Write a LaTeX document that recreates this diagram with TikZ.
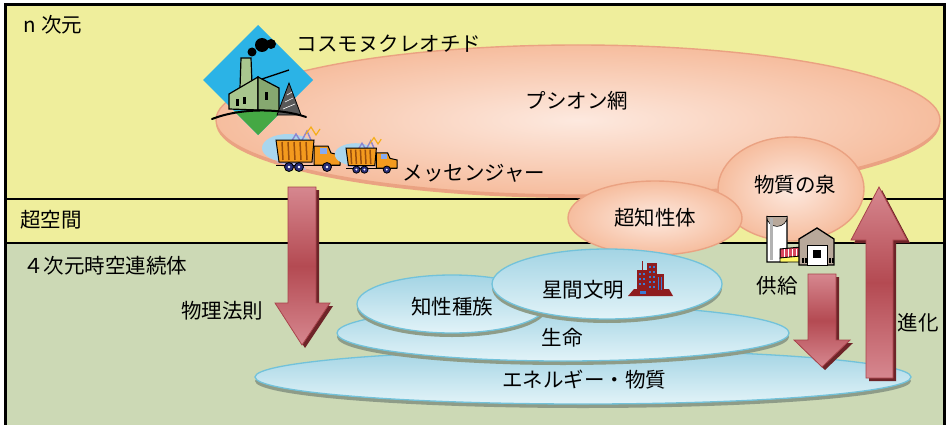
\documentclass[tikz,border=0pt]{standalone}
\usepackage{fontspec}
\setmainfont{Noto Sans CJK JP}
\begin{document}
\begin{tikzpicture}[x=1pt,y=-1pt,
  lbl/.style={font=\fontsize{20.5}{21}\selectfont, inner sep=0pt, text=black},
  peach/.style={inner color=peachIn, outer color=peachOut, draw=peachRim, line width=1.4pt},
  sky/.style={top color=skyTop, bottom color=skyBot, draw=skyRim, line width=1.3pt},
  skyshadow/.style={fill=shadowGray},
  bigarrow/.style={top color=arLight, bottom color=arLight, middle color=arDark, draw=arRim, line width=0.8pt},
  arshadow/.style={fill=arShade},
  band/.style={draw=black, line width=1.6pt}
]
\definecolor{bandYellow}{HTML}{EFEE9C}
\definecolor{bandGreen}{HTML}{CCD9B5}
\definecolor{peachIn}{HTML}{FDE9DF}
\definecolor{peachOut}{HTML}{F6BD9E}
\definecolor{peachRim}{HTML}{EAA282}
\definecolor{skyTop}{HTML}{A3D4E4}
\definecolor{skyBot}{HTML}{E2F3F8}
\definecolor{skyRim}{HTML}{72C2DA}
\definecolor{shadowGray}{HTML}{8E9C88}
\definecolor{arLight}{HTML}{D6878F}
\definecolor{arDark}{HTML}{B44A52}
\definecolor{arRim}{HTML}{A8434B}
\definecolor{arShade}{HTML}{6E2428}
\definecolor{factBlue}{HTML}{2BB3E6}
\definecolor{factGreen}{HTML}{45A844}
\definecolor{bldGreen}{HTML}{A9C68E}
\definecolor{bldGreenDk}{HTML}{86A870}
\definecolor{truckOrange}{HTML}{F39A1E}
\definecolor{truckDark}{HTML}{9A4F0C}
\definecolor{wheelBlue}{HTML}{2A2F7A}
\definecolor{splashBlue}{HTML}{A9D6EE}
\definecolor{splashPurple}{HTML}{8C86D0}
\definecolor{towerRed}{HTML}{8E1C1E}
\definecolor{winBlue}{HTML}{3A7BD5}
\definecolor{barnGray}{HTML}{B8A89A}
\definecolor{shedRed}{HTML}{D8475E}

\useasboundingbox (0,0) rectangle (949,425);
\fill[white] (0,0) rectangle (949,425);

% layers of space
\fill[bandYellow] (5,5) rectangle (944,199);
\fill[bandYellow] (5,199) rectangle (944,243);
\fill[bandGreen] (5,243) rectangle (944,425);
\draw[band] (5,199) -- (944,199);
\draw[band] (5,243) -- (944,243);
\draw[line width=3pt] (5,425) -- (5,5) -- (944,5) -- (944,425);

\node[lbl] (ndim) at (53,25) {n 次元};
\node[lbl] (hyper) at (51,220) {超空間};
\node[lbl] (fourd) at (105,266) {４次元時空連続体};

% psion net
\fill[peachRim] (578,123) ellipse [x radius=362, y radius=75];
\path[peach] (578,120) ellipse [x radius=362, y radius=75];
\node[lbl] (psion) at (577,101) {プシオン網};

% fountain of matter and super intelligence
\path[peach] (791,189) ellipse [x radius=73, y radius=52];
\node[lbl] (fount) at (795,185) {物質の泉};
\path[peach] (655,218) ellipse [x radius=87, y radius=37];
\node[lbl] (superi) at (655,218) {超知性体};

% cosmo nucleotide: factory in a diamond
\begin{scope}
  \clip (258,25) -- (313,80) -- (258,135) -- (203,80) -- cycle;
  \fill[factBlue] (200,20) rectangle (320,140);
  \fill[factGreen] (200,117) .. controls (235,108) and (280,108) .. (316,116) -- (316,140) -- (200,140) -- cycle;
\end{scope}
\fill[black] (252,52) circle (4.5);
\fill[black] (262,45) circle (7);
\fill[black] (271,44) circle (5);
\filldraw[fill=bldGreen, draw=black, line width=1.2pt] (240,88) -- (241,58) -- (251,58) -- (252,84) -- cycle;
\filldraw[fill=bldGreen, draw=black, line width=1.2pt] (229,94) -- (258,77) -- (258,110) -- (229,109) -- cycle;
\filldraw[fill=bldGreenDk, draw=black, line width=1.2pt] (258,77) -- (279,88) -- (279,111) -- (258,110) -- cycle;
\draw[black, line width=1.4pt] (262,79) -- (289,70);
\fill[black] (236,99) rectangle (239,106);
\fill[black] (243,97) rectangle (246,104);
\fill[black] (265,92) rectangle (268,100);
\filldraw[fill=gray!70!black, draw=black, line width=0.8pt] (289,83) -- (301,115) -- (277,115) -- cycle;
\draw[white, line width=0.6pt] (287,95) -- (292,92) (285,102) -- (293,98) (283,109) -- (295,104);
\draw[black, line width=2pt, line cap=round] (212,119) .. controls (240,108) and (280,108) .. (306,117);
\node[lbl] (cosmo) at (389,44) {コスモヌクレオチド};

% messengers: two dump trucks
\foreach \ox/\oy/\s in {276/140/1, 346/148/0.8} {
  \begin{scope}[shift={(\ox,\oy)}, scale=\s]
    \fill[splashBlue] (12,8) ellipse [x radius=26, y radius=14];
    \fill[splashPurple!60] (0,22) -- (30,30) -- (20,14) -- cycle;
    \draw[splashPurple, line width=1.4pt] (14,4) -- (20,-6) -- (25,2) -- (31,-9) -- (35,0);
    \draw[truckOrange!80!yellow, line width=1.2pt] (30,-6) -- (35,-13) -- (40,-5) -- (44,-11);
    \filldraw[fill=truckOrange, draw=black, line width=1pt] (0,0) -- (38,0) -- (36,22) -- (3,22) -- cycle;
    \foreach \k in {6,12,18,24,30} \draw[truckDark, line width=1.5pt] (\k,2) -- (\k+1,20);
    \filldraw[fill=truckOrange, draw=black, line width=1pt] (38,6) -- (52,6) -- (55,13) -- (64,15) -- (64,25) -- (38,25) -- cycle;
    \fill[splashBlue!80!blue] (44,8) rectangle (51,14);
    \draw[black, line width=1pt] (0,25) -- (64,25);
    \foreach \wx in {13,23,51} \filldraw[fill=wheelBlue, draw=black, line width=0.8pt] (\wx,27) circle (4.5);
    \foreach \wx in {13,23,51} \fill[white] (\wx,27) circle (1.3);
  \end{scope}
}
\node[lbl] (messenger) at (474,173) {メッセンジャー};

% material world
\fill[shadowGray] (583,381) ellipse [x radius=328, y radius=27];
\path[sky] (583,377) ellipse [x radius=328, y radius=27];
\node[lbl] (energy) at (584,380) {エネルギー・物質};
\fill[shadowGray] (563,337) ellipse [x radius=226, y radius=28];
\path[sky] (563,333) ellipse [x radius=226, y radius=28];
\node[lbl] (life) at (562,338) {生命};
\fill[shadowGray] (452,308) ellipse [x radius=95, y radius=29];
\path[sky] (452,304) ellipse [x radius=95, y radius=29];
\node[lbl] (species) at (452,307) {知性種族};
\fill[shadowGray] (607,288) ellipse [x radius=115, y radius=35];
\path[sky] (607,284) ellipse [x radius=115, y radius=35];
\node[lbl] (civil) at (583,290) {星間文明};

% city towers
\fill[towerRed] (628,296) -- (634,289) -- (669,289) -- (673,296) -- cycle;
\fill[towerRed] (637,270) rectangle (648,292);
\fill[towerRed] (647,263) rectangle (657,292);
\fill[towerRed] (656,274) rectangle (664,292);
\draw[towerRed, line width=0.8pt] (642,270) -- (642,261);
\foreach \wy in {273,278,283} {
  \fill[winBlue] (639,\wy) rectangle (641,\wy+2);
  \fill[winBlue] (643,\wy) rectangle (645,\wy+2);
}
\foreach \wy in {266,271,276,281,286} {
  \fill[winBlue] (649,\wy) rectangle (651,\wy+2);
  \fill[winBlue] (653,\wy) rectangle (655,\wy+2);
}
\foreach \wx in {658,661} \fill[winBlue] (\wx,277) rectangle (\wx+1.2,290);
\fill[winBlue] (640,291) rectangle (646,294);

% silo and barn
\filldraw[fill=white, draw=black, line width=1.4pt] (767,262) -- (767,216) arc[start angle=180, end angle=0, radius=10] -- (787,262) -- cycle;
\fill[barnGray] (767,216) arc[start angle=180, end angle=0, radius=10] -- cycle;
\draw[black, line width=1pt] (767,216) -- (787,216);
\fill[gray!60] (770,218) rectangle (773,260);
\filldraw[fill=shedRed, draw=black, line width=1pt] (780,249) -- (801,247) -- (801,256) -- (780,258) -- cycle;
\foreach \k in {784,788,792,796} \draw[white, line width=0.5pt] (\k,249) -- (\k,257);
\filldraw[fill=yellow!60!white, draw=black, line width=0.8pt] (780,258) -- (801,256) -- (801,262) -- (780,262) -- cycle;
\filldraw[fill=barnGray, draw=black, line width=1.3pt] (799,265) -- (799,239) -- (817,228) -- (834,239) -- (834,265) -- cycle;
\filldraw[fill=white, draw=black, line width=0.8pt] (807,245) rectangle (827,265);
\fill[black] (813,250) rectangle (821,258);
\foreach \bx in {802,805,829,832} \fill[black] (\bx,258) rectangle (\bx+1.5,263);

% flows between the levels
\fill[arshadow] (291,190) -- (319,190) -- (319,306) -- (333,306) -- (305,348) -- (278,306) -- (291,306) -- cycle;
\path[bigarrow] (288,187) -- (316,187) -- (316,303) -- (330,303) -- (302,345) -- (275,303) -- (288,303) -- cycle;
\node[lbl] (physics) at (222,311) {物理法則};

\fill[arshadow] (811,277) -- (839,277) -- (839,343) -- (853,343) -- (825,370) -- (797,343) -- (811,343) -- cycle;
\path[bigarrow] (808,274) -- (836,274) -- (836,340) -- (850,340) -- (822,367) -- (794,340) -- (808,340) -- cycle;
\node[lbl] (supply) at (777,286) {供給};

\fill[arshadow] (869,381) -- (896,381) -- (896,243) -- (910,243) -- (882,190) -- (854,243) -- (869,243) -- cycle;
\path[bigarrow] (866,378) -- (893,378) -- (893,240) -- (907,240) -- (879,187) -- (851,240) -- (866,240) -- cycle;
\node[lbl] (evolve) at (918,323) {進化};
\end{tikzpicture}
\end{document}
